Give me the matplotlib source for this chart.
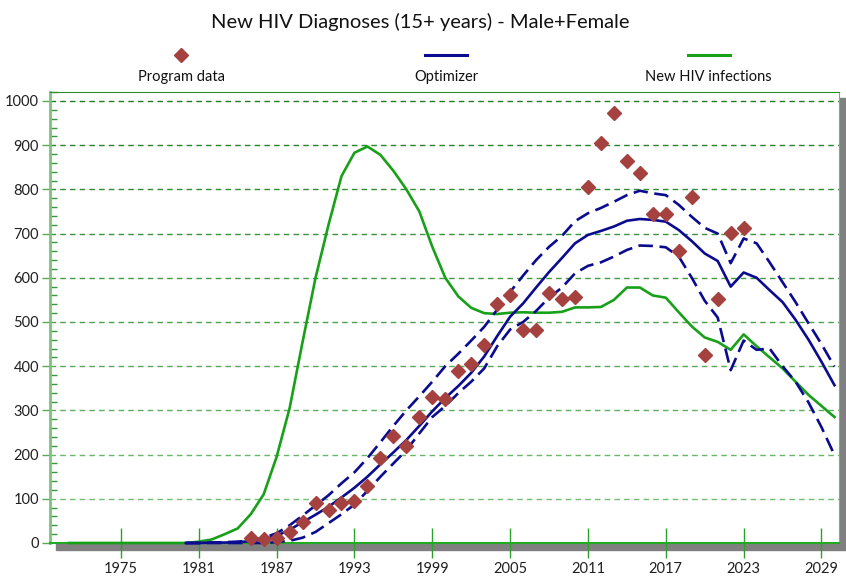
import numpy as np
import matplotlib
matplotlib.use("Agg")
import matplotlib.pyplot as plt
from matplotlib.lines import Line2D
from matplotlib.patches import Rectangle
from matplotlib.ticker import MultipleLocator

plt.rcParams['font.family'] = ['Lato', 'DejaVu Sans']

# program data (diamonds)
prog_years = np.arange(1985, 2024)
prog_data = [12, 9, 12, 26, 48, 91, 75, 90, 96, 130,
             192, 243, 220, 286, 331, 325, 390, 405, 448, 540,
             561, 483, 482, 565, 551, 556, 806, 906, 973, 864,
             838, 744, 744, 661, 782, 425, 553, 701, 712]

# optimizer fit + bounds
model_years = np.arange(1980, 2031)
opt_mid = [0, 0, 1, 1, 2, 4, 8, 16, 30, 47,
           64, 82, 103, 125, 150, 178, 205, 233, 265, 298,
           328, 355, 385, 422, 468, 512, 542, 578, 613, 645,
           678, 697, 706, 716, 729, 733, 731, 727, 708, 683,
           655, 638, 580, 612, 600, 572, 545, 505, 460, 410,
           357]
opt_hi = [0, 0, 1, 2, 3, 6, 12, 22, 40, 62,
          85, 108, 135, 160, 192, 228, 265, 300, 332, 365,
          400, 428, 458, 489, 528, 568, 605, 640, 670, 695,
          728, 746, 758, 772, 787, 797, 791, 787, 765, 738,
          713, 700, 633, 689, 678, 635, 590, 545, 497, 450,
          399]
opt_lo = [0, 0, 0, 0, 0, 0, 0, 2, 5, 12,
          25, 45, 65, 87, 118, 150, 180, 210, 248, 285,
          310, 339, 365, 395, 445, 483, 500, 525, 555, 578,
          610, 627, 635, 648, 663, 673, 672, 669, 648, 600,
          548, 510, 391, 458, 437, 440, 400, 365, 318, 262,
          199]

# new infections
inf_years = np.arange(1971, 2031)
new_inf = [0, 0, 0, 0, 0, 0, 0, 0, 0, 0,
           3, 8, 20, 33, 65, 110, 195, 305, 455, 600,
           720, 830, 883, 897, 878, 842, 800, 750, 670, 600,
           558, 532, 520, 518, 521, 522, 521, 521, 523, 533,
           533, 534, 550, 578, 578, 560, 555, 522, 490, 465,
           455, 437, 472, 445, 420, 395, 365, 335, 310, 285]

xticks = [1975, 1981, 1987, 1993, 1999, 2005, 2011, 2017, 2023, 2029]
yticks = list(range(0, 1001, 100))

red = '#a5413e'
blue = '#0b0b8f'
green = '#18a018'

fig = plt.figure(figsize=(8.46, 5.76), dpi=100)
ax = fig.add_axes([50/846, 1-543/576, 789/846, (543-91.7)/576])

# gray shadow behind the plot box
fig.patches.append(Rectangle((56/846, 1-550/576), 790/846, (550-98)/576,
                             transform=fig.transFigure, color='#808080',
                             zorder=-1))

# dashed grid, darker at top
gc_top = np.array([0x1f, 0x7f, 0x1f]) / 255
gc_bot = np.array([0x7c, 0xc4, 0x7c]) / 255
for v in yticks[1:]:
    t = v / 1000
    ax.axhline(v, color=gc_bot*(1-t) + gc_top*t, lw=1, ls=(0, (4, 3)), zorder=1)

ax.plot(inf_years, new_inf, color=green, lw=1.9, zorder=3, clip_on=False)
ax.plot(model_years, opt_mid, color=blue, lw=1.9, zorder=4, clip_on=False)
ax.plot(model_years, opt_hi, color=blue, lw=1.9, dashes=(5.5, 2.5), zorder=4, clip_on=False)
ax.plot(model_years, opt_lo, color=blue, lw=1.9, dashes=(5.5, 2.5), zorder=4, clip_on=False)
ax.plot(prog_years, prog_data, ls='none', marker='D', ms=7.5, color=red,
        mec=red, zorder=5, clip_on=False)

ax.set_xlim(1969.53, 2030.35)
ax.set_ylim(0, 1021)
ax.set_xticks(xticks)
ax.set_yticks(yticks)
ax.yaxis.set_minor_locator(MultipleLocator(20))
ax.tick_params(axis='y', which='major', direction='out', length=6, width=1,
               color='#5aa85a', labelsize=10.5, labelcolor='#202020', pad=2)
ax.tick_params(axis='y', which='minor', direction='in', length=5, width=1,
               color='#3a963a')
ax.tick_params(axis='x', which='major', direction='inout', length=22, width=1,
               color='#2ca02c', labelsize=10.5, labelcolor='#202020', pad=3)

ax.spines['left'].set_color('#80c080')
ax.spines['left'].set_linewidth(2)
ax.spines['bottom'].set_color('#22aa22')
ax.spines['bottom'].set_linewidth(1.5)
ax.spines['top'].set_color('#2e8b2e')
ax.spines['right'].set_color('#70b870')

# title and legend drawn along the top
fig.text(0.497, 0.962, 'New HIV Diagnoses (15+ years) - Male+Female',
         ha='center', va='center', fontsize=14.5, color='#111111')
fig.lines.append(Line2D([181/846], [1-55/576], transform=fig.transFigure,
                        marker='D', ms=7.5, color=red, ls='none'))
fig.lines.append(Line2D([425/846, 467/846], [1-55/576]*2,
                        transform=fig.transFigure, color=blue, lw=2.2))
fig.lines.append(Line2D([688/846, 730/846], [1-55/576]*2,
                        transform=fig.transFigure, color=green, lw=2.2))
for xc, lab in [(181, 'Program data'), (446, 'Optimizer'), (708, 'New HIV infections')]:
    fig.text(xc/846, 1-77/576, lab, ha='center', va='center', fontsize=10.5,
             color='#111111')

fig.savefig('out.png', dpi=100)
